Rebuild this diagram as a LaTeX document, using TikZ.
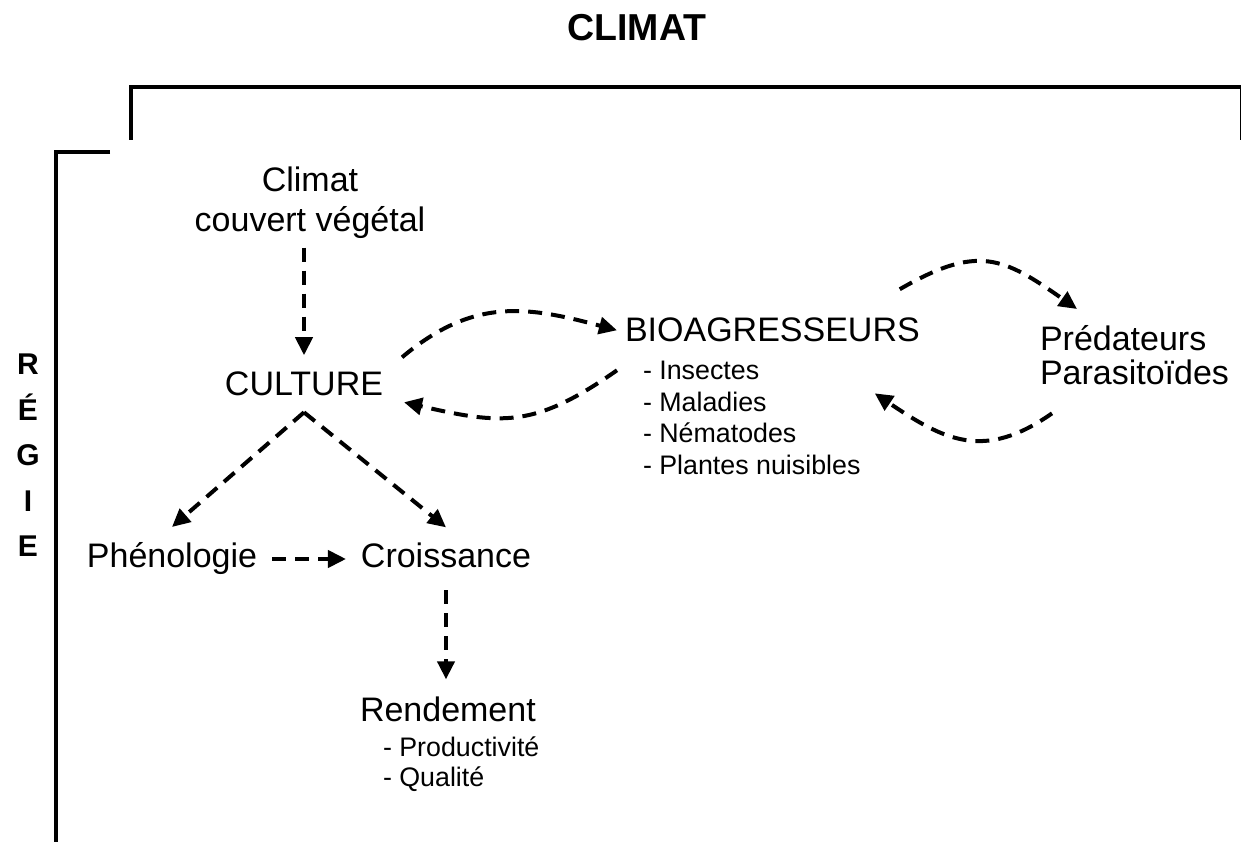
\documentclass[tikz,border=0pt]{standalone}
\usepackage{fontspec}
\setmainfont{Liberation Sans}
\usetikzlibrary{arrows.meta}

\begin{document}
\begin{tikzpicture}[
      x = 1pt, y = 1pt,
      every node/.style = {inner sep = 0pt, outer sep = 0pt},
      big/.style = {font = \fontsize{34}{40}\selectfont},
      small/.style = {font = \fontsize{26.8}{31.7}\selectfont, align = left},
      link/.style = {line width = 4pt, dash pattern = on 14pt off 9pt,
            -{Triangle[length = 18pt, width = 17pt]}},
      frame/.style = {line width = 4pt}
      ]
      \useasboundingbox (0,0) rectangle (1241,842);
      \node[anchor = base, font = \fontsize{37.5}{44}\selectfont\bfseries] (titre) at (637,801) {CLIMAT};
      \node[anchor = north, align = center, font = \fontsize{30}{45.5}\selectfont\bfseries] (regie) at (28,488) {R\\É\\G\\I\\E};
      \draw[frame] (131,702) -- (131,755) -- (1242,755) -- (1242,702);
      \draw[frame] (110,690) -- (56,690) -- (56,-5);

      \node[big, anchor = north, align = center] (clim) at (310,675) {Climat\\couvert végétal};
      \node[big, anchor = base] (cult) at (304,446) {CULTURE};
      \node[big, anchor = base] (phen) at (172,274) {Phénologie};
      \node[big, anchor = base] (crois) at (446,274) {Croissance};
      \node[big, anchor = base west] (rend) at (360,120) {Rendement};
      \node[small, anchor = north west, font = \fontsize{26.8}{30}\selectfont] (rendlist) at (383,105) {- Productivité\\- Qualité};
      \node[big, anchor = base west] (bio) at (625,500) {BIOAGRESSEURS};
      \node[small, anchor = north west] (biolist) at (643,481) {- Insectes\\- Maladies\\- Nématodes\\- Plantes nuisibles};
      \node[big, anchor = north west, align = left, font = \fontsize{34}{34}\selectfont] (pred) at (1040,517) {Prédateurs\\Parasitoïdes};

      \coordinate (apex) at ([yshift = -16pt]cult.south);
      \draw[link, shorten <= 9pt, shorten >= 17pt] (cult.north |- clim.south) -- (cult.north);
      \draw[link] (apex) -- ([yshift = 16pt]phen.north);
      \draw[link] (apex) -- ([yshift = 16pt]crois.north);
      \draw[link, shorten <= 15pt, shorten >= 15pt] (phen.east) -- (phen.east -| crois.west);
      \draw[link, shorten <= 22pt, shorten >= 18pt] (crois.south) -- (crois.south |- rend.north);

      \draw[link] ([shift = {(19pt,27pt)}]cult.east) to[out = 40, in = 165, looseness = 1.1] ([xshift = -8pt]bio.west);
      \draw[link] ([shift = {(-8pt,-40pt)}]bio.west) to[out = 215, in = -13, looseness = 1.2] ([shift = {(21pt,-18pt)}]cult.east);
      \draw[link] ([shift = {(-20pt,29pt)}]bio.north east) to[out = 30, in = 145, looseness = 1.3] ([shift = {(37pt,16pt)}]pred.north west);
      \draw[link] ([shift = {(12pt,-29pt)}]pred.south west) to[out = 215, in = -34, looseness = 1.2] ([shift = {(-45pt,-51pt)}]bio.south east);
\end{tikzpicture}
\end{document}
